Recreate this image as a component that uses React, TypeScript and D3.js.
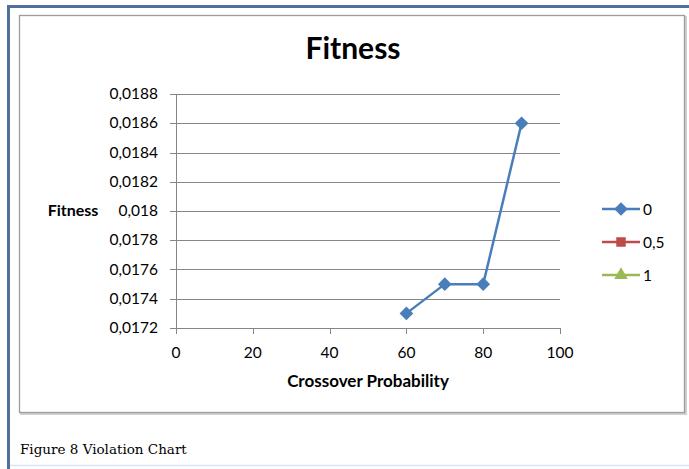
import React from 'react'
import * as d3 from 'd3'

// Series data
const crossover = [60, 70, 80, 90]
const fitness0 = [0.0173, 0.0175, 0.0175, 0.0186]
const seriesNames = ['0', '0,5', '1']
const seriesColors = ['#4a7ebb', '#be4b48', '#98b954']
const xTicks = [0, 20, 40, 60, 80, 100]
const yTicks = [0.0172, 0.0174, 0.0176, 0.0178, 0.018, 0.0182, 0.0184, 0.0186, 0.0188]

const W = 689
const H = 469
const font = 'Lato, "Open Sans", sans-serif'

export default function App() {
  const x = d3.scaleLinear().domain([0, 100]).range([176, 560])
  const y = d3.scaleLinear().domain([0.0172, 0.0188]).range([328, 94])
  const fmt = (v: number) => String(+v.toFixed(4)).replace('.', ',')

  const line = d3.line<number>()
    .x((_, i) => x(crossover[i]))
    .y(d => y(d))

  // square-ish diamond like the spreadsheet marker
  const diamond = d3.symbol().type(d3.symbolDiamond2 ?? d3.symbolDiamond).size(120)()
  const square = d3.symbol().type(d3.symbolSquare).size(90)()
  const triangle = d3.symbol().type(d3.symbolTriangle).size(80)()
  const markers = [diamond, square, triangle]

  return (
    <svg width={W} height={H} style={{ position: 'absolute', left: 0, top: 0, background: '#fff' }}>
      {/* outer document frame */}
      <line x1={8.5} y1={5} x2={8.5} y2={H} stroke="#4f6f9f" strokeWidth={3} />
      <line x1={7} y1={6.5} x2={W} y2={6.5} stroke="#4f6f9f" strokeWidth={3} />
      <line x1={10} y1={465.5} x2={W} y2={465.5} stroke="#dce6f2" strokeWidth={1.5} />

      {/* chart box with shadow */}
      <rect x={21} y={17} width={665} height={397} fill="none" stroke="#d0d0d0" strokeWidth={2} />
      <rect x={19.5} y={15.5} width={665} height={397} fill="#fff" stroke="#9c9c9c" strokeWidth={1.3} />

      <text x={353} y={59} textAnchor="middle" fontFamily={font} fontWeight="bold" fontSize={30} fill="#000">Fitness</text>

      {/* gridlines and y ticks */}
      {yTicks.map(t => (
        <g key={t}>
          <line x1={170} x2={560} y1={Math.round(y(t)) + 0.5} y2={Math.round(y(t)) + 0.5} stroke="#868686" strokeWidth={1} />
          <text x={158} y={y(t) + 5} textAnchor="end" fontFamily={font} fontSize={15.5} fill="#000">{fmt(t)}</text>
        </g>
      ))}
      <line x1={176.5} x2={176.5} y1={94} y2={328} stroke="#868686" />

      {/* x ticks */}
      {xTicks.map(t => (
        <g key={t}>
          <line x1={Math.round(x(t)) + 0.5} x2={Math.round(x(t)) + 0.5} y1={328} y2={334} stroke="#868686" />
          <text x={x(t)} y={358} textAnchor="middle" fontFamily={font} fontSize={15.5} fill="#000">{t}</text>
        </g>
      ))}

      <text x={368} y={387} textAnchor="middle" fontFamily={font} fontWeight="bold" fontSize={17} fill="#000">Crossover Probability</text>
      <text x={73} y={216} textAnchor="middle" fontFamily={font} fontWeight="bold" fontSize={16} fill="#000">Fitness</text>

      {/* series 0 */}
      <path d={line(fitness0) ?? ''} fill="none" stroke={seriesColors[0]} strokeWidth={2.5} />
      {fitness0.map((v, i) => (
        <path key={i} d={diamond ?? ''} transform={`translate(${x(crossover[i])},${y(v)})`} fill={seriesColors[0]} />
      ))}

      {/* legend */}
      {seriesNames.map((n, i) => {
        const ly = 209 + i * 33
        return (
          <g key={n}>
            <line x1={602} x2={640} y1={ly} y2={ly} stroke={seriesColors[i]} strokeWidth={2.5} />
            <path d={markers[i] ?? ''} transform={`translate(621,${ly})`} fill={seriesColors[i]} />
            <text x={643} y={ly + 5.5} fontFamily={font} fontSize={15.5} fill="#000">{n}</text>
          </g>
        )
      })}

      <text x={20} y={454} fontFamily='"DejaVu Serif", "Liberation Serif", serif' fontSize={13.5} fill="#000">Figure 8 Violation Chart</text>
    </svg>
  )
}
